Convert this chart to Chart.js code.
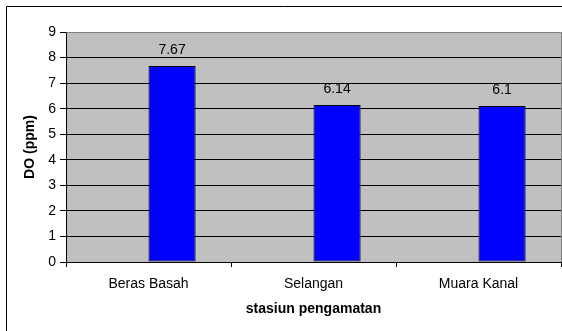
<!DOCTYPE html>
<html>
<head>
<meta charset="utf-8">
<script src="https://cdn.jsdelivr.net/npm/chart.js@4/dist/chart.umd.min.js"></script>
<style>
  html, body { margin: 0; padding: 0; background: #fff; }
  canvas { display: block; }
</style>
</head>
<body>
<canvas id="doChart" width="562" height="331"></canvas>
<script>
// data
var stations = ['Beras Basah', 'Selangan', 'Muara Kanal'];
var emptySeries = [null, null, null];
var doValues = [7.67, 6.14, 6.1];
var yTicks = [0, 1, 2, 3, 4, 5, 6, 7, 8, 9];

var fontFamily = '"Liberation Sans", Arial, sans-serif';

// grey plot area plus outer chart frame
var framePlugin = {
    id: 'frame',
    beforeDraw: function (chart) {
        var ctx = chart.ctx;
        var a = chart.chartArea;
        ctx.save();
        ctx.fillStyle = '#C0C0C0';
        ctx.fillRect(a.left, a.top, a.right - a.left, a.bottom - a.top);
        ctx.restore();
    },
    beforeDatasetsDraw: function (chart) {
        var ctx = chart.ctx;
        var a = chart.chartArea;
        ctx.save();
        ctx.strokeStyle = '#808080';
        ctx.lineWidth = 1;
        ctx.beginPath();
        ctx.moveTo(Math.round(a.left) + 0.5, Math.round(a.top) + 0.5);
        ctx.lineTo(Math.round(a.right) + 0.5, Math.round(a.top) + 0.5);
        ctx.lineTo(Math.round(a.right) + 0.5, Math.round(a.bottom));
        ctx.stroke();
        ctx.restore();
    },
    afterDraw: function (chart) {
        var ctx = chart.ctx;
        ctx.save();
        ctx.strokeStyle = '#000';
        ctx.lineWidth = 1;
        ctx.beginPath();
        ctx.moveTo(6.5, chart.height);
        ctx.lineTo(6.5, 6.5);
        ctx.lineTo(chart.width, 6.5);
        ctx.stroke();
        ctx.restore();
    }
};

// value text above each blue bar
var valueLabels = {
    id: 'valueLabels',
    afterDatasetsDraw: function (chart) {
        var ctx = chart.ctx;
        var meta = chart.getDatasetMeta(1);
        ctx.save();
        ctx.font = '14px ' + fontFamily;
        ctx.fillStyle = '#000';
        ctx.textAlign = 'center';
        ctx.textBaseline = 'alphabetic';
        meta.data.forEach(function (bar, i) {
            ctx.fillText(String(doValues[i]), bar.x, bar.y - 12);
        });
        ctx.restore();
    }
};

var ctx = document.getElementById('doChart').getContext('2d');
var doChart = new Chart(ctx, {
    type: 'bar',
    data: {
        labels: stations,
        datasets: [{
            label: 'empty',
            data: emptySeries,
            backgroundColor: 'rgba(0,0,0,0)'
        }, {
            label: 'DO',
            data: doValues,
            backgroundColor: '#0000FF',
            borderColor: '#000',
            borderWidth: 1,
            borderSkipped: false
        }]
    },
    options: {
        responsive: false,
        animation: false,
        devicePixelRatio: 1,
        layout: { padding: { top: 32, right: 1, left: 0, bottom: 0 } },
        plugins: {
            legend: { display: false },
            tooltip: { enabled: false }
        },
        datasets: {
            bar: { categoryPercentage: 2 / 3.5, barPercentage: 1 }
        },
        scales: {
            x: {
                afterFit: function (scale) { scale.height = 69; },
                grid: {
                    drawOnChartArea: false,
                    drawTicks: true,
                    tickLength: 5,
                    tickColor: '#000',
                    offset: true
                },
                border: { display: true, color: '#000' },
                ticks: {
                    color: '#000',
                    padding: 9,
                    font: { size: 14, family: fontFamily }
                },
                title: {
                    display: true,
                    text: 'stasiun pengamatan',
                    color: '#000',
                    padding: { top: 0, bottom: 13 },
                    font: { size: 14, weight: 'bold', family: fontFamily }
                }
            },
            y: {
                min: 0,
                max: 9,
                afterFit: function (scale) { scale.width = 66; },
                afterBuildTicks: function (scale) {
                    scale.ticks = yTicks.map(function (v) { return { value: v }; });
                },
                grid: {
                    color: function (c) {
                        return (c.tick && c.tick.value > 0 && c.tick.value < 9) ? '#000' : 'rgba(0,0,0,0)';
                    },
                    tickColor: '#000',
                    tickLength: 6,
                    drawTicks: true
                },
                border: { display: true, color: '#000' },
                ticks: {
                    color: '#000',
                    padding: 4,
                    font: { size: 14, family: fontFamily }
                },
                title: {
                    display: true,
                    text: 'DO (ppm)',
                    color: '#000',
                    padding: { top: 22, bottom: 0 },
                    font: { size: 14, weight: 'bold', family: fontFamily }
                }
            }
        }
    },
    plugins: [framePlugin, valueLabels]
});
</script>
</body>
</html>
